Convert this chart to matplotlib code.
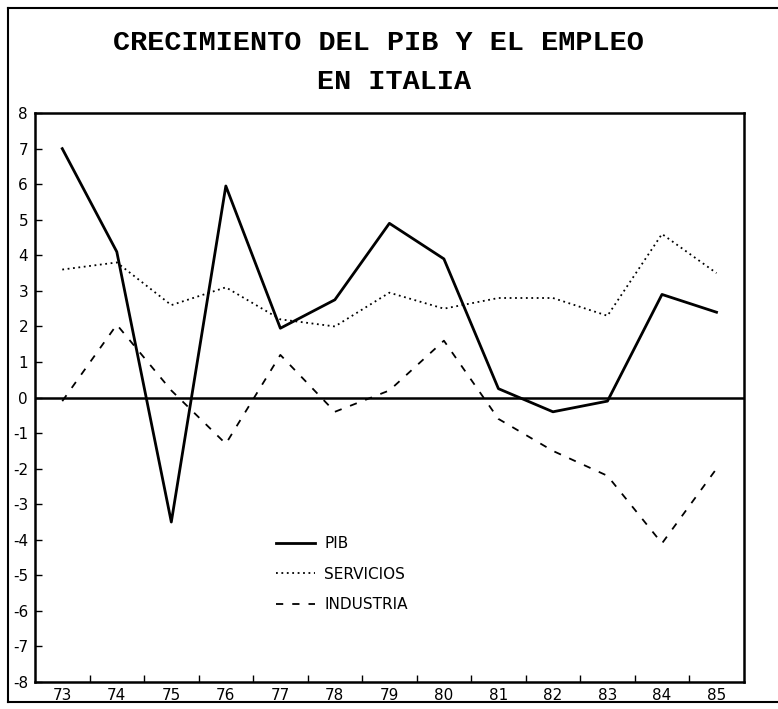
import matplotlib

matplotlib.use("Agg")
import matplotlib.pyplot as plt
from matplotlib.lines import Line2D

# datos (% de variación anual)
years = [73, 74, 75, 76, 77, 78, 79, 80, 81, 82, 83, 84, 85]
year_labels = ["73", "74", "75", "76", "77", "78", "79", "80", "81", "82", "83", "84", "85"]
pib = [7.0, 4.1, -3.5, 5.95, 1.95, 2.75, 4.9, 3.9, 0.25, -0.4, -0.1, 2.9, 2.4]
servicios = [3.6, 3.8, 2.6, 3.1, 2.2, 2.0, 2.95, 2.5, 2.8, 2.8, 2.3, 4.6, 3.5]
industria = [-0.1, 2.05, 0.2, -1.3, 1.2, -0.4, 0.2, 1.6, -0.6, -1.5, -2.2, -4.1, -2.0]
y_ticks = list(range(-8, 9))

plt.rcParams["font.family"] = ["Liberation Sans Narrow", "DejaVu Sans"]

fig = plt.figure(figsize=(7.78, 7.09), dpi=100)
ax = fig.add_axes([0.045, 0.038, 0.911, 0.8025])

ax.plot(years, pib, color="black", lw=2.0, ls="-", label="PIB")
ax.plot(years, servicios, color="black", lw=1.3, ls=(0, (1, 2)), label="SERVICIOS")
ax.plot(years, industria, color="black", lw=1.3, ls=(0, (4, 5)), label="INDUSTRIA")
ax.axhline(0, color="black", lw=1.8)

ax.set_xlim(72.5, 85.5)
ax.set_ylim(-8, 8)
ax.set_xticks(years)
ax.set_xticklabels(year_labels)
ax.set_xticks([y + 0.5 for y in years[:-1]], minor=True)
ax.set_yticks(y_ticks)
ax.set_yticklabels([str(v) for v in y_ticks])
ax.tick_params(axis="x", which="major", length=0, pad=4, labelsize=11)
ax.tick_params(axis="x", which="minor", direction="in", length=5, width=1)
ax.tick_params(axis="y", direction="in", length=5, width=1, pad=5, labelsize=11)
for side in ax.spines.values():
    side.set_linewidth(1.8)

ax.legend(loc="upper left", bbox_to_anchor=(0.32, 0.28), frameon=False,
          fontsize=11, handlelength=2.6, handletextpad=0.6, labelspacing=1.0)

title_font = dict(family="Liberation Mono", weight="bold", size=20.5, ha="center", va="center")
fig.text(0.486, 0.940, "CRECIMIENTO DEL PIB Y EL EMPLEO", **title_font)
fig.text(0.507, 0.884, "EN ITALIA", **title_font)

# marco exterior
x0, y0, y1 = 0.0103, 0.0099, 0.9887
fig.add_artist(Line2D([x0, 1.0], [y1, y1], color="black", lw=1.5, transform=fig.transFigure))
fig.add_artist(Line2D([x0, x0], [y0, y1], color="black", lw=1.5, transform=fig.transFigure))
fig.add_artist(Line2D([x0, 1.0], [y0, y0], color="black", lw=1.5, transform=fig.transFigure))

plt.savefig("out.png", dpi=100)
plt.close(fig)
